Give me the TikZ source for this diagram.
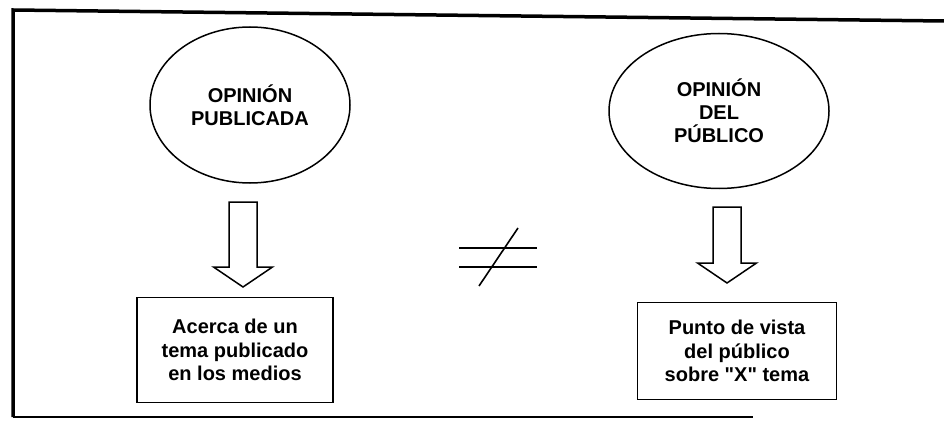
\documentclass[tikz,border=0pt]{standalone}
\usepackage{fontspec}
\setmainfont{Liberation Sans}
\usetikzlibrary{positioning,shapes.geometric}

\begin{document}
\begin{tikzpicture}[x=1pt,y=-1pt,
  opin/.style={draw,ellipse,line width=1.5pt,align=center,inner sep=0pt,font=\fontsize{20}{23}\selectfont\bfseries},
  desc/.style={draw,line width=1.5pt,align=center,inner sep=0pt,font=\fontsize{20}{23.5}\selectfont\bfseries},
  flecha/.style={draw,line width=1.5pt,line join=miter,fill=white},
  neq/.style={line width=1.3pt},
  pics/bloque/.style={code={\draw[flecha] (-14,0) -- (-14,#1) -- (-29.5,#1) -- (0,#1+20) -- (29.5,#1) -- (14,#1) -- (14,0) -- cycle;}}]
\useasboundingbox (0,0) rectangle (944,422);
% marco
\draw[line width=3.5pt] (944,21) -- (13,10) -- (13,417);
\draw[line width=2pt] (13,417) -- (753,417);
% opiniones
\node[opin,minimum width=200pt,minimum height=156pt] (pub) at (250,105) {OPINIÓN\\PUBLICADA};
\node[opin,minimum width=220pt,minimum height=155pt] (pbl) at (719,111) {OPINIÓN\\DEL\\PÚBLICO};
% descripciones
\node[desc,minimum width=196pt,minimum height=105pt] (tema) at (235,350) {Acerca de un\\tema publicado\\en los medios};
\node[desc,minimum width=199pt,minimum height=97pt] (vista) at (737,351) {Punto de vista\\del público\\sobre \textquotedbl X\textquotedbl{} tema};
% flechas
\coordinate (fpub) at (243,202);
\coordinate (fpbl) at (727,207);
\pic at (fpub) {bloque=65};
\pic at (fpbl) {bloque=56};
% distinto
\draw[neq] (459,248) -- (537,248);
\draw[neq] (459,267) -- (537,267);
\draw[neq,line width=1.6pt] (479,286) -- (518,228);
\end{tikzpicture}
\end{document}
